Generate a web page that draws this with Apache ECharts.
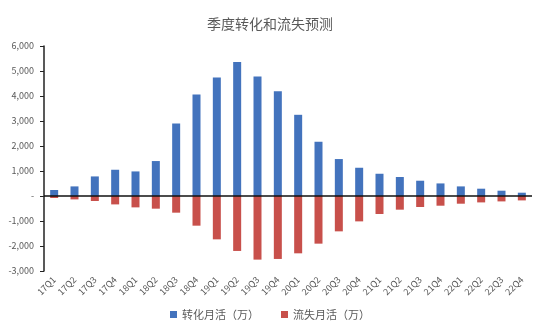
<!DOCTYPE html>
<html>
<head>
<meta charset="utf-8">
<script src="https://cdn.jsdelivr.net/npm/echarts@6/dist/echarts.min.js"></script>
<style>
html,body{margin:0;padding:0;background:#fff;}
#c{width:540px;height:334px;}
</style>
</head>
<body>
<div id="c"></div>
<script>
const categories = ['17Q1','17Q2','17Q3','17Q4','18Q1','18Q2','18Q3','18Q4','19Q1','19Q2','19Q3','19Q4','20Q1','20Q2','20Q3','20Q4','21Q1','21Q2','21Q3','21Q4','22Q1','22Q2','22Q3','22Q4'];
const converted = [240,384,783,1050,983,1398,2900,4060,4740,5365,4780,4195,3248,2170,1478,1130,890,759,611,503,384,292,212,132];
const churned = [-80,-136,-200,-336,-455,-507,-667,-1187,-1734,-2198,-2545,-2518,-2293,-1906,-1414,-1015,-719,-547,-440,-388,-308,-256,-216,-176];
const seriesNames = ['转化月活（万）','流失月活（万）'];
const titleText = '季度转化和流失预测';

const fontFam = '"Noto Sans CJK SC", "Noto Sans", sans-serif';
function fmt(v){
  if (v === 0) return '-';
  const s = Math.abs(v).toString().replace(/\B(?=(\d{3})+(?!\d))/g, ',');
  return (v < 0 ? '-' : '') + s;
}
const chart = echarts.init(document.getElementById('c'), null, {renderer:'canvas'});
chart.setOption({
  animation: false,
  backgroundColor: '#fff',
  textStyle: {fontFamily: fontFam},
  title: {
    text: titleText, left: 'center', top: 12,
    textStyle: {fontSize: 14, fontWeight: 'normal', color: '#595959', fontFamily: fontFam}
  },
  legend: {
    bottom: 9, left: 'center', itemWidth: 7, itemHeight: 7, itemGap: 22,
    icon: 'rect',
    textStyle: {fontSize: 11, color: '#595959', fontFamily: fontFam},
    data: seriesNames
  },
  grid: {left: 44, right: 8, top: 46, bottom: 63, containLabel: false},
  xAxis: {
    type: 'category', data: categories,
    axisLine: {show: false, onZero: false},
    axisTick: {show: false},
    axisLabel: {rotate: 45, fontSize: 9, color: '#595959', margin: 7, interval: 0, fontFamily: fontFam}
  },
  yAxis: {
    type: 'value', min: -3000, max: 6000, interval: 1000,
    axisLine: {show: true, lineStyle: {color: '#222', width: 1.5}},
    axisTick: {show: true, length: 4, lineStyle: {color: '#222'}},
    splitLine: {show: false},
    axisLabel: {fontSize: 9, color: '#595959', margin: 10, formatter: fmt, fontFamily: fontFam}
  },
  series: [
    {
      name: seriesNames[0], type: 'bar', data: converted, barWidth: 8, barGap: '-100%',
      itemStyle: {color: '#4373bd'},
      markLine: {
        silent: true, symbol: 'none', label: {show: false},
        lineStyle: {color: '#111', width: 1.5, type: 'solid'},
        data: [{yAxis: 0}]
      }
    },
    {
      name: seriesNames[1], type: 'bar', data: churned, barWidth: 8, barGap: '-100%',
      itemStyle: {color: '#c8504b'}
    }
  ]
});
</script>
</body>
</html>
